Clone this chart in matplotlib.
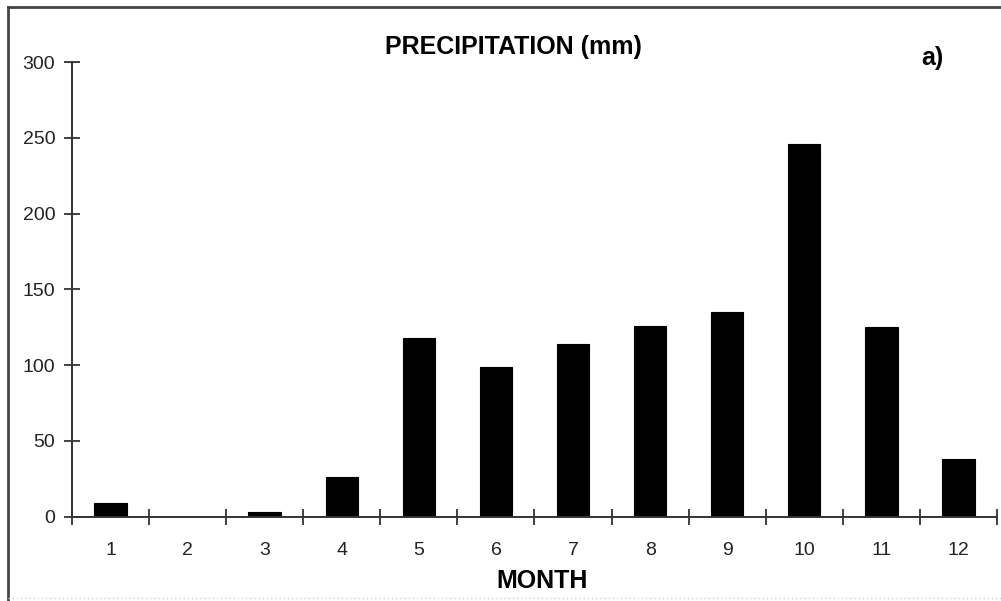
import matplotlib
matplotlib.use("Agg")
import matplotlib.pyplot as plt
from matplotlib.lines import Line2D

months = list(range(1, 13))
precip = [9, 0, 3, 26, 118, 99, 114, 126, 135, 246, 125, 38]
yticks = [0, 50, 100, 150, 200, 250, 300]

plt.rcParams["font.family"] = ["Liberation Sans", "DejaVu Sans"]

fig = plt.figure(figsize=(10.01, 6.01), dpi=100)
ax = fig.add_axes([0.0719, 0.1403, 0.9241, 0.7565])

ax.bar(months, precip, width=0.42, color="black", edgecolor="black", lw=0.8)

ax.set_xlim(0.5, 12.5)
ax.set_ylim(0, 300)

axis_col = "#333333"
for s in ("top", "right"):
    ax.spines[s].set_visible(False)
for s in ("left", "bottom"):
    ax.spines[s].set_color(axis_col)
    ax.spines[s].set_linewidth(1.4)

# category boundaries carry the tick marks, centres carry the labels
ax.set_xticks([m - 0.5 for m in months] + [12.5])
ax.set_xticklabels([])
ax.set_xticks(months, minor=True)
ax.set_xticklabels([str(m) for m in months], minor=True)
ax.tick_params(axis="x", which="major", direction="inout", length=11,
               width=1.3, color=axis_col)
ax.tick_params(axis="x", which="minor", length=0, pad=18,
               labelsize=14, labelcolor="#222222")

ax.set_yticks(yticks)
ax.tick_params(axis="y", direction="inout", length=12, width=1.3,
               color=axis_col, pad=6, labelsize=14, labelcolor="#222222")

ax.set_xlabel("MONTH", fontsize=18, fontweight="bold", va="center")
ax.xaxis.set_label_coords(0.508, -0.141)

fig.text(0.513, 0.921, "PRECIPITATION (mm)", ha="center", va="center",
         fontsize=18, fontweight="bold")
fig.text(0.931, 0.904, "a)", ha="center", va="center",
         fontsize=18, fontweight="bold")

# outer frame of the original figure
fig.add_artist(Line2D([0.008, 0.008], [0.0, 0.989], transform=fig.transFigure,
                      color="#444444", lw=2))
fig.add_artist(Line2D([0.008, 1.0], [0.989, 0.989], transform=fig.transFigure,
                      color="#444444", lw=2))
fig.add_artist(Line2D([0.008, 1.0], [0.005, 0.005], transform=fig.transFigure,
                      color="#cccccc", lw=1, ls=(0, (1, 2))))

fig.savefig("out.png", dpi=100)
